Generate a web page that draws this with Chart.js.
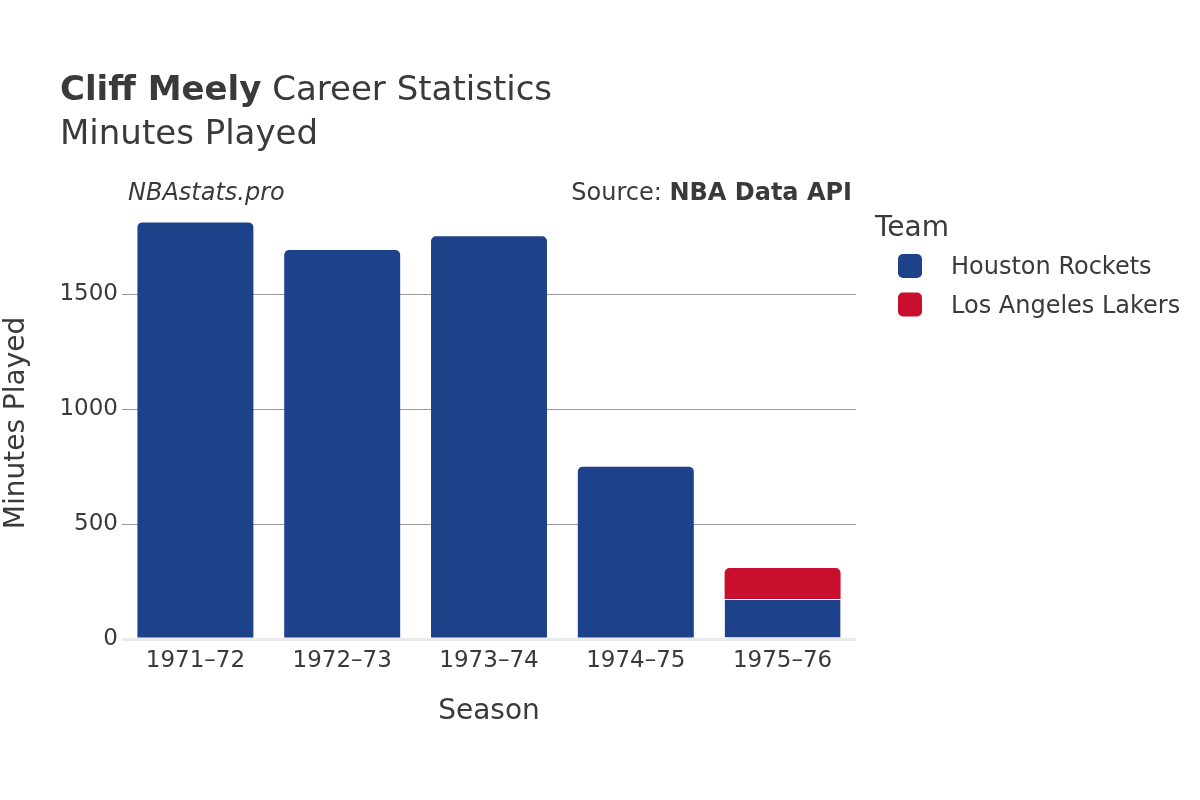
<!DOCTYPE html>
<html>
<head>
<meta charset="utf-8">
<script src="https://cdn.jsdelivr.net/npm/chart.js@4/dist/chart.umd.min.js"></script>
<style>
  html, body { margin: 0; padding: 0; background: #fff; }
  #wrap { width: 1200px; height: 800px; position: relative; }
</style>
</head>
<body>
<div id="wrap"><canvas id="chart" width="1200" height="800"></canvas></div>
<script>
// chart data
const seasons = ['1971–72', '1972–73', '1973–74', '1974–75', '1975–76'];
const houston = [1813, 1693, 1753, 750, 174];
const lakers = [null, null, null, null, 135];
const yTicks = [0, 500, 1000, 1500];

const FONT = '"DejaVu Sans", "Noto Sans", sans-serif';
const TEXT = '#3a3a3a';
const BLUE = '#1d428a';
const RED = '#c8102e';

// titles, watermark, source and legend drawn on the canvas
const decor = {
  id: 'decor',
  afterDraw(chart) {
    const ctx = chart.ctx;
    ctx.save();
    ctx.fillStyle = TEXT;
    ctx.textBaseline = 'alphabetic';
    ctx.textAlign = 'left';

    ctx.font = 'bold 34px ' + FONT;
    const bold = 'Cliff Meely';
    ctx.fillText(bold, 60, 100);
    const w = ctx.measureText(bold).width;
    ctx.font = '34px ' + FONT;
    ctx.fillText(' Career Statistics', 60 + w, 100);
    ctx.fillText('Minutes Played', 60, 144);

    ctx.font = 'italic 24px ' + FONT;
    ctx.fillText('NBAstats.pro', 128, 200);

    ctx.textAlign = 'right';
    ctx.font = 'bold 24px ' + FONT;
    const src = 'NBA Data API';
    ctx.fillText(src, 852, 200);
    const sw = ctx.measureText(src).width;
    ctx.font = '24px ' + FONT;
    ctx.fillText('Source: ', 852 - sw, 200);

    // legend
    ctx.textAlign = 'left';
    ctx.textBaseline = 'middle';
    ctx.font = '28px ' + FONT;
    ctx.fillText('Team', 875, 229);
    const items = [['Houston Rockets', BLUE], ['Los Angeles Lakers', RED]];
    ctx.font = '24px ' + FONT;
    items.forEach(([label, color], i) => {
      const cy = 266 + i * 38.5;
      ctx.fillStyle = color;
      ctx.beginPath();
      ctx.roundRect(898, cy - 12, 24, 24, 5);
      ctx.fill();
      ctx.fillStyle = TEXT;
      ctx.fillText(label, 951, cy + 2);
    });
    ctx.restore();
  }
};

const ctx = document.getElementById('chart').getContext('2d');
new Chart(ctx, {
  type: 'bar',
  data: {
    labels: seasons,
    datasets: [{
      label: 'Houston Rockets',
      data: houston,
      backgroundColor: BLUE,
      borderColor: 'rgba(255,255,255,0.8)',
      borderWidth: c => (lakers[c.dataIndex] ? { top: 1, left: 0, right: 0, bottom: 0 } : 0),
      borderSkipped: 'start',
      borderRadius: c => (lakers[c.dataIndex] ? 0 : 5),
      barPercentage: 0.79,
      categoryPercentage: 1,
    }, {
      label: 'Los Angeles Lakers',
      data: lakers,
      backgroundColor: RED,
      borderWidth: 0,
      borderRadius: 5,
      borderSkipped: 'start',
      barPercentage: 0.79,
      categoryPercentage: 1,
    }],
  },
  options: {
    responsive: false,
    animation: false,
    layout: { padding: { left: 0, top: 207, right: 344, bottom: 0 } },
    plugins: {
      legend: { display: false },
      tooltip: { enabled: false },
    },
    scales: {
      x: {
        stacked: true,
        grid: { display: false },
        border: { display: false },
        ticks: { color: TEXT, font: { family: FONT, size: 23 }, padding: 0 },
        title: { display: true, text: 'Season', color: TEXT, font: { family: FONT, size: 28 }, padding: { top: 0, bottom: 71 } },
        afterFit: s => { s.height = 161; },
      },
      y: {
        stacked: true,
        min: 0,
        max: 1880,
        afterBuildTicks: s => { s.ticks = yTicks.map(v => ({ value: v })); },
        grid: {
          color: c => (c.tick && c.tick.value === 0 ? '#ebebeb' : '#999'),
          lineWidth: c => (c.tick && c.tick.value === 0 ? 3 : 1),
          drawTicks: false,
        },
        border: { display: false },
        ticks: {
          color: TEXT,
          font: { family: FONT, size: 23 },
          padding: 4,
          callback: v => String(v),
        },
        title: { display: true, text: 'Minutes Played', color: TEXT, font: { family: FONT, size: 28 }, padding: { bottom: 0, top: 0 } },
        afterFit: s => { s.width = 122; },
      },
    },
  },
  plugins: [decor],
});
</script>
</body>
</html>
